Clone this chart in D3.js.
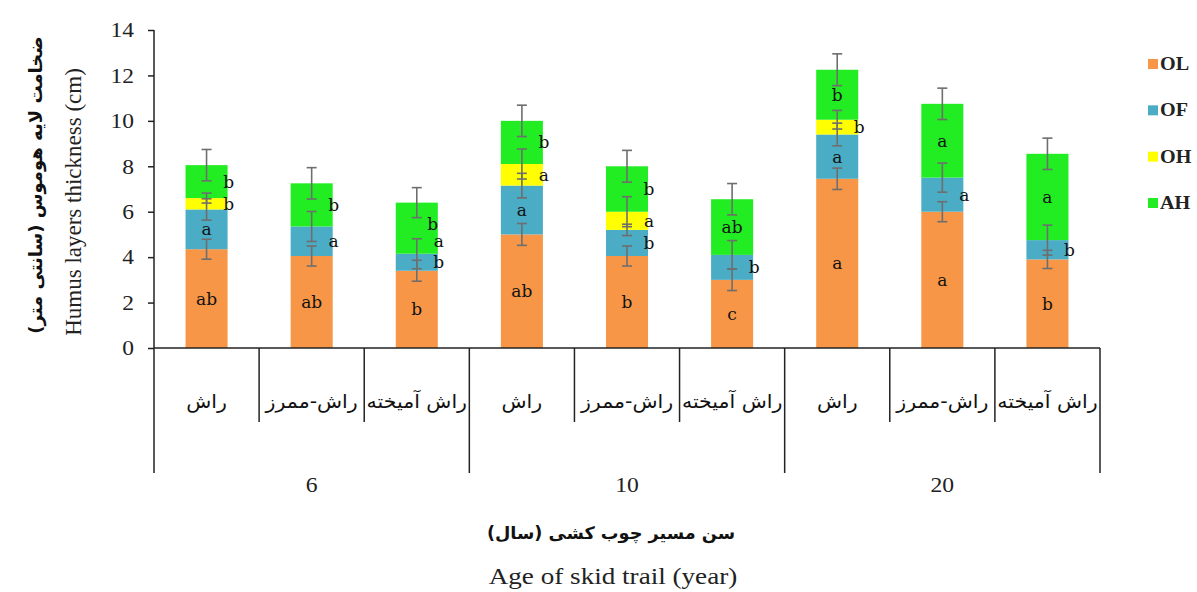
<!DOCTYPE html>
<html>
<head>
<meta charset="utf-8">
<script src="https://cdn.jsdelivr.net/npm/d3@7/dist/d3.min.js"></script>
<style>
  body { margin: 0; background: #fff; }
  svg { display: block; }
</style>
</head>
<body>
<svg id="chart" width="1197" height="592"></svg>
<script>
// ---- data -------------------------------------------------------------
const ages = ["6", "10", "20"];
const trailTypes = ["راش", "راش-ممرز", "راش آمیخته"];
const layers = ["OL", "OF", "OH", "AH"];

// mean layer thickness (cm), ordered age × trail type
const OL = [4.35, 4.05, 3.4, 5.0, 4.05, 3.0, 7.45, 6.0, 3.9];
const OF = [1.75, 1.3, 0.75, 2.15, 1.15, 1.1, 1.95, 1.5, 0.85];
const OH = [0.5, 0, 0, 0.95, 0.8, 0, 0.65, 0, 0];
const AH = [1.45, 1.9, 2.25, 1.9, 2.0, 2.45, 2.2, 3.25, 3.8];

// standard errors (cm)
const OLerr = [0.44, 0.44, 0.46, 0.48, 0.44, 0.47, 0.47, 0.44, 0.40];
const OFerr = [0.47, 0.66, 0.66, 0.54, 0.25, 0.63, 0.50, 0.64, 0.66];
const OHerr = [0.22, 0, 0, 0.66, 0.66, 0, 0.41, 0, 0];
const AHerr = [0.69, 0.69, 0.66, 0.69, 0.70, 0.69, 0.70, 0.69, 0.69];

// significance letters
const OLsig = ["ab", "ab", "b", "ab", "b", "c", "a", "a", "b"];
const OFsig = ["a", "a", "b", "a", "b", "b", "a", "a", "b"];
const OHsig = ["b", "", "a", "a", "a", "", "b", "", ""];
const AHsig = ["b", "b", "b", "b", "b", "ab", "b", "a", "a"];

const yTicks = [0, 2, 4, 6, 8, 10, 12, 14];

// ---- layout -------------------------------------------------------------
const colors = { OL: "#F79646", OF: "#4BACC6", OH: "#FFFF00", AH: "#22EC22" };
// letters that sit on the right edge of the bar instead of inside it
const edgeLetters = { OL: [], OF: [1, 2, 4, 5, 7, 8], OH: [0, 2, 3, 4, 6], AH: [0, 1, 2, 3, 4] };
// small nudges (value units up, pixels right) where letters would collide
const letterLift = { OH: [0, 0, 0.55, 0, 0, 0, 0, 0, 0], AH: [0, 0, 0.2, 0, 0, 0, 0, 0, 0] };
const letterShift = { AH: [0, 0, -6, 0, 0, 0, 0, 0, 0] };

const values = { OL, OF, OH, AH };
const errs = { OL: OLerr, OF: OFerr, OH: OHerr, AH: AHerr };
const sigs = { OL: OLsig, OF: OFsig, OH: OHsig, AH: AHsig };

const plotLeft = 154, plotRight = 1100, plotTop = 30, plotBase = 348;
const catBottom = 422, groupBottom = 473;
const stretch = 1.18; // horizontal widening of the lettering

const cats = [];
ages.forEach(a => trailTypes.forEach(t => cats.push(a + "|" + t)));

const x = d3.scaleBand().domain(cats).range([plotLeft, plotRight]).padding(0);
const barW = x.bandwidth() * 0.4;
const y = d3.scaleLinear().domain([0, 14]).range([plotBase, plotTop]);

const svg = d3.select("#chart");
const serif = "'Liberation Serif', 'Times New Roman', serif";
const persian = "'DejaVu Sans', sans-serif";

function placed(sel, px, py, sx) {
  return sel.attr("transform", `translate(${px},${py}) scale(${sx},1)`);
}

// stacked segments
const rows = cats.map((c, i) => {
  const r = { cat: c, i };
  layers.forEach(l => r[l] = values[l][i]);
  return r;
});
const stacked = d3.stack().keys(layers)(rows);

const gBars = svg.append("g");
stacked.forEach(series => {
  gBars.selectAll(null)
    .data(series.filter(d => d[1] - d[0] > 0))
    .join("rect")
    .attr("x", d => x(d.data.cat) + (x.bandwidth() - barW) / 2)
    .attr("width", barW)
    .attr("y", d => y(d[1]))
    .attr("height", d => y(d[0]) - y(d[1]))
    .attr("fill", colors[series.key]);
});

// error bars at the top of each segment
const gErr = svg.append("g").attr("stroke", "#6e6e6e").attr("stroke-width", 1.6);
stacked.forEach(series => {
  const key = series.key;
  series.forEach((d, i) => {
    if (d[1] - d[0] <= 0) return;
    const e = errs[key][i];
    const cx = x(d.data.cat) + x.bandwidth() / 2;
    const y1 = y(d[1] + e), y2 = y(d[1] - e);
    gErr.append("line").attr("x1", cx).attr("x2", cx).attr("y1", y1).attr("y2", y2);
    [y1, y2].forEach(yy => gErr.append("line")
      .attr("x1", cx - 5).attr("x2", cx + 5).attr("y1", yy).attr("y2", yy));
  });
});

// significance letters
const gSig = svg.append("g")
  .attr("font-family", "'DejaVu Serif', serif")
  .attr("font-size", 17)
  .attr("fill", "#111")
  .attr("text-anchor", "middle")
  .attr("dominant-baseline", "central");
stacked.forEach(series => {
  const key = series.key;
  series.forEach((d, i) => {
    const s = sigs[key][i];
    if (!s) return;
    const onEdge = edgeLetters[key].includes(i);
    const shift = letterShift[key] ? letterShift[key][i] : 0;
    const cx = x(d.data.cat) + x.bandwidth() / 2 + (onEdge ? barW / 2 + 1 : 0) + shift;
    const lift = letterLift[key] ? letterLift[key][i] : 0;
    gSig.append("text")
      .attr("x", cx)
      .attr("y", y((d[0] + d[1]) / 2 + lift))
      .text(s);
  });
});

// y axis
const yAxis = d3.axisLeft(y).tickValues(yTicks).tickSize(6).tickPadding(12);
const gy = svg.append("g").attr("transform", `translate(${plotLeft},0)`).call(yAxis);
gy.select(".domain").remove();
gy.selectAll(".tick line").attr("stroke", "#222").attr("stroke-width", 1.5);
gy.selectAll(".tick text")
  .attr("x", 0)
  .attr("transform", `translate(-20,0) scale(1.12,1)`)
  .attr("font-family", serif).attr("font-size", 21).attr("fill", "#222");

const gAxis = svg.append("g").attr("stroke", "#222").attr("stroke-width", 1.5);
gAxis.append("line").attr("x1", plotLeft).attr("x2", plotLeft).attr("y1", plotTop).attr("y2", groupBottom);
gAxis.append("line").attr("x1", plotLeft).attr("x2", plotRight).attr("y1", plotBase).attr("y2", plotBase);

// separators between trail types and between ages
cats.forEach((c, i) => {
  const xr = x(c) + x.bandwidth();
  const isGroupEnd = (i + 1) % trailTypes.length === 0;
  gAxis.append("line").attr("x1", xr).attr("x2", xr)
    .attr("y1", plotBase).attr("y2", isGroupEnd ? groupBottom : catBottom);
});

// trail type labels
svg.append("g").selectAll("text").data(cats).join("text")
  .each(function (d) { placed(d3.select(this), x(d) + x.bandwidth() / 2, 402, 1.08); })
  .attr("text-anchor", "middle")
  .attr("dominant-baseline", "central")
  .attr("font-family", persian)
  .attr("font-size", 19)
  .attr("fill", "#111")
  .text(d => d.split("|")[1]);

// age labels
svg.append("g").selectAll("text").data(ages).join("text")
  .each(function (d) {
    const cx = (x(d + "|" + trailTypes[0]) + x(d + "|" + trailTypes[2]) + x.bandwidth()) / 2;
    placed(d3.select(this), cx, 486, stretch);
  })
  .attr("text-anchor", "middle")
  .attr("dominant-baseline", "central")
  .attr("font-family", serif)
  .attr("font-size", 20)
  .attr("fill", "#222")
  .text(d => d);

// axis titles
placed(svg.append("text"), 611, 533, 1.04)
  .attr("text-anchor", "middle").attr("dominant-baseline", "central")
  .attr("font-family", persian).attr("font-weight", "bold").attr("font-size", 17)
  .attr("fill", "#111")
  .text("سن مسیر چوب کشی (سال)");
placed(svg.append("text"), 613, 576, stretch)
  .attr("text-anchor", "middle").attr("dominant-baseline", "central")
  .attr("font-family", serif).attr("font-size", 23)
  .attr("fill", "#222")
  .text("Age of skid trail (year)");

svg.append("text")
  .attr("transform", "translate(35,185) rotate(-90)")
  .attr("text-anchor", "middle").attr("dominant-baseline", "central")
  .attr("font-family", persian).attr("font-weight", "bold").attr("font-size", 18)
  .attr("fill", "#111")
  .text("ضخامت لایه هوموس (سانتی متر)");
svg.append("text")
  .attr("transform", "translate(73,202) rotate(-90)")
  .attr("text-anchor", "middle").attr("dominant-baseline", "central")
  .attr("font-family", serif).attr("font-size", 23)
  .attr("fill", "#222")
  .text("Humus layers thickness (cm)");

// legend
const legendY = d3.scalePoint().domain(layers).range([64, 203]);
const gLeg = svg.append("g");
layers.forEach(l => {
  gLeg.append("rect").attr("x", 1148).attr("y", legendY(l) - 5).attr("width", 10).attr("height", 10)
    .attr("fill", colors[l]);
  placed(gLeg.append("text"), 1160, legendY(l), 1.12)
    .attr("dominant-baseline", "central")
    .attr("font-family", serif).attr("font-weight", "bold").attr("font-size", 18)
    .attr("fill", "#222")
    .text(l);
});
</script>
</body>
</html>
